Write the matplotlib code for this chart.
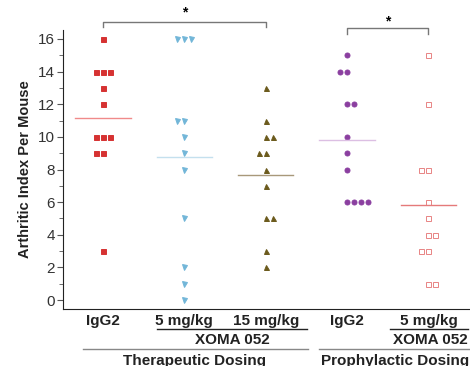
import matplotlib.pyplot as plt
import matplotlib.transforms as mtransforms
import numpy as np

plt.rcParams['font.family'] = ['Liberation Sans', 'DejaVu Sans']

# arthritic index per mouse, one list per group
igg2_ther = [16, 14, 14, 14, 13, 12, 10, 10, 10, 9, 9, 3]
xoma5_ther = [16, 16, 16, 11, 11, 10, 9, 8, 5, 2, 1, 0]
xoma15_ther = [13, 11, 10, 10, 9, 9, 8, 7, 5, 5, 3, 2]
igg2_proph = [15, 14, 14, 12, 12, 10, 9, 8, 6, 6, 6, 6]
xoma5_proph = [15, 12, 8, 8, 6, 5, 4, 4, 3, 3, 1, 1]

groups = [igg2_ther, xoma5_ther, xoma15_ther, igg2_proph, xoma5_proph]
group_labels = ['IgG2', '5 mg/kg', '15 mg/kg', 'IgG2', '5 mg/kg']

# values whose duplicates are shifted right instead of left
lean_right = [set(), set(), {10, 5}, {12, 6}, {4, 1}]

styles = [
    dict(marker='s', color='#d63232', mfc='#d63232', ms=3.6, line='#f08a8a'),
    dict(marker='v', color='#72b6d8', mfc='#72b6d8', ms=3.6, line='#c4e0ee'),
    dict(marker='^', color='#6b5a1c', mfc='#6b5a1c', ms=3.6, line='#a8987a'),
    dict(marker='o', color='#8b3fa0', mfc='#8b3fa0', ms=3.6, line='#dcbfe3'),
    dict(marker='s', color='#e88484', mfc='white', ms=3.6, line='#e57a7a'),
]

fig = plt.figure(figsize=(4.7, 3.66), dpi=100)
ax = fig.add_axes([63 / 470, 1 - 309 / 366, 1 - 63 / 470, 279 / 366])

step = 0.086
for i, (vals, st) in enumerate(zip(groups, styles)):
    vals = np.array(vals)
    xs = np.zeros(len(vals), dtype=float)
    for v in np.unique(vals):
        idx = np.where(vals == v)[0]
        n = len(idx)
        if v in lean_right[i]:
            offs = np.arange(n)
        elif n > 1:
            offs = np.arange(n) - 1
        else:
            offs = np.zeros(1)
        xs[idx] = i + offs * step
    ax.plot(xs, vals, linestyle='none', marker=st['marker'], ms=st['ms'],
            mfc=st['mfc'], mec=st['color'], mew=0.7, clip_on=False)
    ax.plot([i - 0.34, i + 0.34], [vals.mean()] * 2, color=st['line'], lw=1)

ax.set_xlim(-0.49, 4.51)
ax.set_ylim(-0.55, 16.55)
ax.set_yticks(range(0, 17, 2))
ax.set_yticks(range(1, 17, 2), minor=True)
ax.tick_params(axis='y', which='major', length=4, color='#555555', labelsize=11,
               labelcolor='#333333', pad=2)
ax.tick_params(axis='y', which='minor', length=3, color='#555555')
ax.set_xticks([])
for side in ['top', 'right']:
    ax.spines[side].set_visible(False)
ax.spines['left'].set_color('#222222')
ax.spines['bottom'].set_color('#222222')
ax.set_ylabel('Arthritic Index Per Mouse', fontsize=10.5, fontweight='bold',
              color='#222222', labelpad=4)

# significance brackets
def bracket(x0, x1, y, drop, star_y):
    ax.plot([x0, x0, x1, x1], [y - drop, y, y, y - drop], color='#777777',
            lw=1, clip_on=False)
    ax.text((x0 + x1) / 2, star_y, '*', ha='center', va='center',
            fontsize=10, fontweight='bold', clip_on=False)

bracket(0, 2, 17.04, 0.3, 17.6)
bracket(3, 4, 16.68, 0.37, 17.05)

# group labels below the axis
trans = mtransforms.blended_transform_factory(ax.transData, fig.transFigure)

def fy(px):
    return 1 - px / 366

lab_kw = dict(transform=trans, ha='center', fontsize=11, fontweight='bold',
              color='#222222', clip_on=False)

for i, lab in enumerate(group_labels):
    ax.text(i, fy(321), lab, va='center', **lab_kw)

def hline(x0, x1, ypx, color):
    ax.plot([x0, x1], [fy(ypx)] * 2, transform=trans, color=color, lw=1,
            clip_on=False)

hline(0.66, 2.51, 328.5, '#222222')
hline(3.53, 4.48, 328.5, '#222222')
ax.text(1.59, fy(339.5), 'XOMA 052', va='center', **lab_kw)
ax.text(4.02, fy(339.5), 'XOMA 052', va='center', **lab_kw)
hline(-0.25, 2.52, 349, '#888888')
hline(2.66, 4.55, 349, '#888888')
ax.text(1.13, fy(354), 'Therapeutic Dosing', va='top', **lab_kw)
ax.text(3.59, fy(354), 'Prophylactic Dosing', va='top', **lab_kw)

fig.savefig('out.png', dpi=100)
